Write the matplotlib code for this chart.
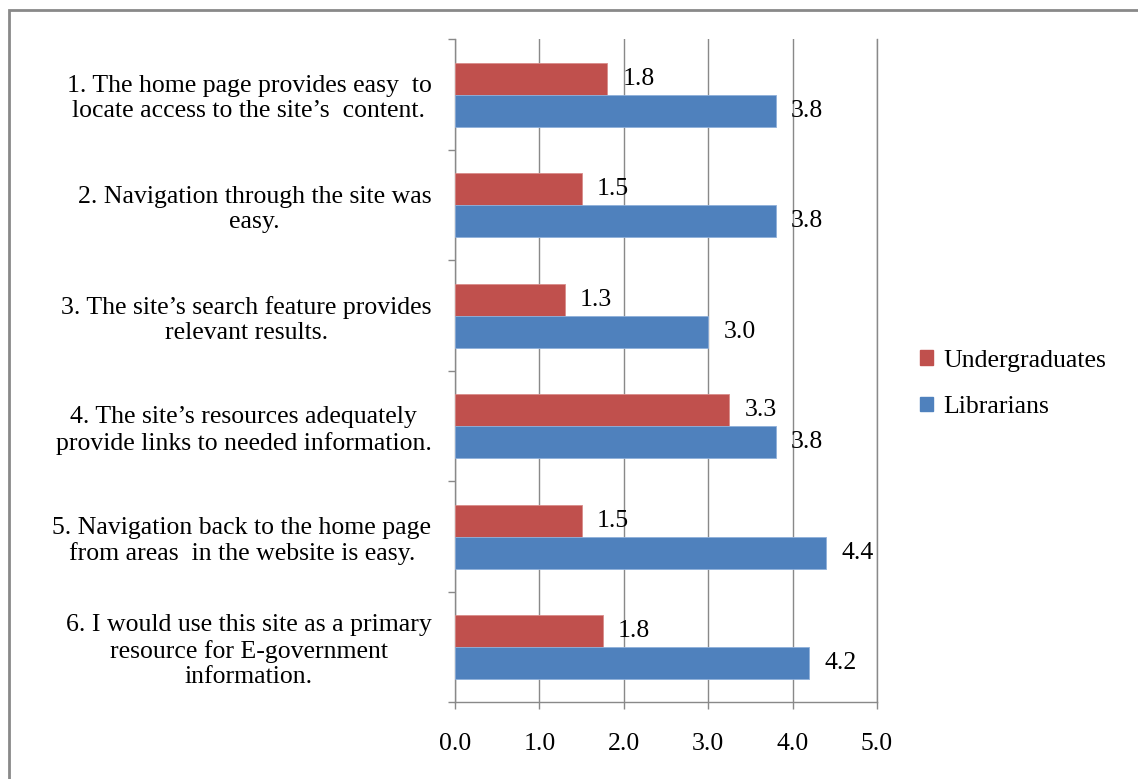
from decimal import Decimal, ROUND_HALF_UP

import matplotlib

matplotlib.use("Agg")
import matplotlib.pyplot as plt
from matplotlib.figure import Figure
from matplotlib.patches import Patch, Rectangle

################################################################################

QUESTIONS = [
    "1. The home page provides easy  to\nlocate access to the site\u2019s  content.",
    "2. Navigation through the site was\neasy.",
    "3. The site\u2019s search feature provides\nrelevant results.",
    "4. The site\u2019s resources adequately\nprovide links to needed information.",
    "5. Navigation back to the home page\nfrom areas  in the website is easy.",
    "6. I would use this site as a primary\nresource for E-government\ninformation.",
]
UNDERGRADUATES = [1.8, 1.5, 1.3, 3.25, 1.5, 1.75]
LIBRARIANS = [3.8, 3.8, 3.0, 3.8, 4.4, 4.2]
X_TICKS = [0.0, 1.0, 2.0, 3.0, 4.0, 5.0]

RED = "#C0504D"
BLUE = "#4F81BD"
GRAY = "#898989"
FONT = "Liberation Serif"
FONT_SIZE = 18.5
BAR_HEIGHT = 0.29

################################################################################


def main():
    plt.rcParams["font.family"] = [FONT, "DejaVu Serif"]
    fig = make_fig()
    fig.savefig("out.png", dpi=100)


################################################################################


def excel_round(value):
    return str(Decimal(str(value)).quantize(Decimal("0.1"), rounding=ROUND_HALF_UP))


################################################################################


def make_bars(*, ax):
    positions = list(range(len(QUESTIONS)))
    red_pos = [p - BAR_HEIGHT / 2 for p in positions]
    blue_pos = [p + BAR_HEIGHT / 2 for p in positions]
    red = ax.barh(
        red_pos, UNDERGRADUATES, height=BAR_HEIGHT, color=RED,
        edgecolor="#d98c8a", linewidth=0.6, zorder=3,
    )
    blue = ax.barh(
        blue_pos, LIBRARIANS, height=BAR_HEIGHT, color=BLUE,
        edgecolor="#8fb0da", linewidth=0.6, zorder=3,
    )
    ##
    for bars, values in ((red, UNDERGRADUATES), (blue, LIBRARIANS)):
        ax.bar_label(
            bars,
            labels=[excel_round(v) for v in values],
            padding=11,
            fontsize=FONT_SIZE,
            color="black",
        )


################################################################################


def make_fig() -> Figure:
    fig = plt.figure(figsize=(11.38, 7.79), dpi=100)
    ax = fig.add_axes([455 / 1138, 1 - 702.3 / 779, 422 / 1138, 663 / 779])
    ##
    make_bars(ax=ax)
    ##
    ax.set_xlim(0, 5)
    ax.set_ylim(len(QUESTIONS) - 0.5, -0.5)
    ax.set_xticks(X_TICKS)
    ax.set_xticklabels([f"{t:.1f}" for t in X_TICKS], fontsize=FONT_SIZE)
    ax.set_yticks(range(len(QUESTIONS)))
    ax.set_yticklabels(QUESTIONS, fontsize=FONT_SIZE, ha="right",
                       multialignment="center", linespacing=1.2)
    ax.set_yticks([i - 0.5 for i in range(len(QUESTIONS) + 1)], minor=True)
    ##
    ax.tick_params(axis="y", which="major", length=0, pad=17)
    ax.tick_params(axis="y", which="minor", length=5, width=1, color=GRAY)
    ax.tick_params(axis="x", length=5, width=1, color=GRAY, pad=17)
    ##
    ax.grid(True, axis="x", color=GRAY, linewidth=1, zorder=1)
    ax.set_axisbelow(True)
    ax.spines["top"].set_visible(False)
    for side in ("left", "bottom", "right"):
        ax.spines[side].set_color(GRAY)
        ax.spines[side].set_linewidth(1)
    ##
    handles = [Patch(color=RED), Patch(color=BLUE)]
    fig.legend(
        handles,
        ["Undergraduates", "Librarians"],
        loc="center left",
        bbox_to_anchor=(897 / 1138, 1 - 384 / 779),
        frameon=False,
        fontsize=FONT_SIZE,
        handlelength=0.5,
        handleheight=0.5,
        handletextpad=0.4,
        labelspacing=0.95,
    )
    ##
    border = Rectangle(
        (9 / 1138, -0.05), 1.1, 1 - 10 / 779 + 0.05,
        transform=fig.transFigure, fill=False, edgecolor=GRAY, linewidth=2,
    )
    fig.add_artist(border)
    return fig


################################################################################

main()
